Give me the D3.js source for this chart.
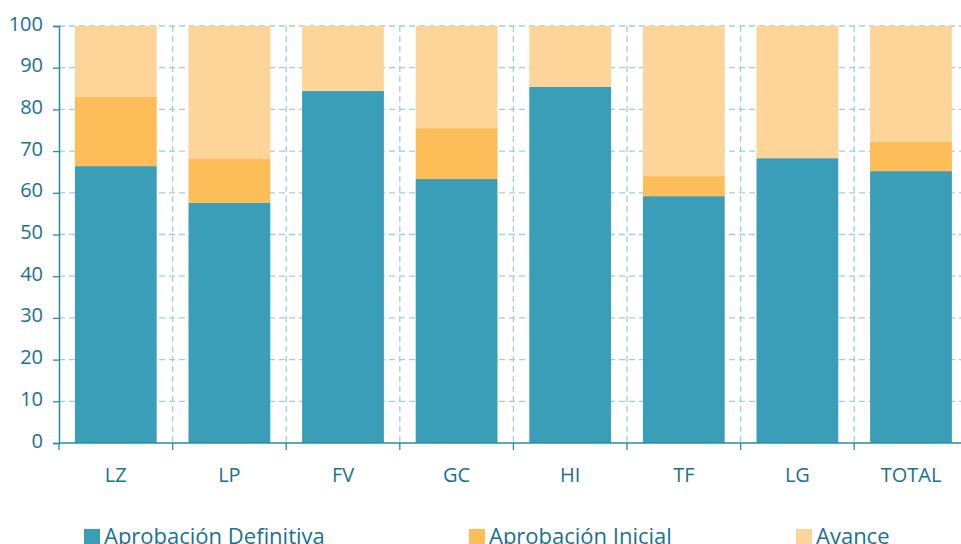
<!DOCTYPE html>
<html><head><meta charset="utf-8">
<script src="https://cdn.jsdelivr.net/npm/d3@7"></script>
<style>body{margin:0;background:#fff;} svg{display:block;font-family:"Open Sans","Noto Sans",sans-serif;}</style>
</head><body>
<svg id="c" width="961" height="544"></svg>
<script>
const categories = ["LZ","LP","FV","GC","HI","TF","LG","TOTAL"];
const definitiva = [66.4, 57.6, 84.4, 63.3, 85.4, 59.2, 68.3, 65.2];
const inicial    = [16.6, 10.5, 0, 12.2, 0, 4.8, 0, 7.0];
const avance     = categories.map((c,i)=> 100 - definitiva[i] - inicial[i]);
const seriesNames = ["Aprobación Definitiva","Aprobación Inicial","Avance"];
const colors = ["#3a9eb8","#fdbd58","#fdd598"];
const yTicks = [0,10,20,30,40,50,60,70,80,90,100];

const svg = d3.select("#c");
const x0 = 59, yTop = 26, yBot = 443, bandW = 113.6;
const x = d3.scaleBand().domain(categories).range([x0, x0 + bandW*categories.length]).paddingInner(0.28).paddingOuter(0.14);
const y = d3.scaleLinear().domain([0,100]).range([yBot, yTop]);
const textCol = "#1b7190", axisCol = "#2a8aa6", gridCol = "#9fcfdc";

// horizontal grid
svg.append("g").selectAll("line").data(yTicks.filter(d=>d>0)).join("line")
  .attr("x1", x0).attr("x2", 961).attr("y1", d=>y(d)).attr("y2", d=>y(d))
  .attr("stroke", gridCol).attr("stroke-width",1.3).attr("stroke-dasharray","6,4");
// vertical grid at band boundaries
const bounds = categories.slice(1).map((c,i)=> x0 + bandW*(i+1));
svg.append("g").selectAll("line").data(bounds).join("line")
  .attr("x1", d=>d).attr("x2", d=>d).attr("y1", yTop).attr("y2", yBot)
  .attr("stroke", gridCol).attr("stroke-width",1.3).attr("stroke-dasharray","6,4");

// stacked bars
const rows = categories.map((c,i)=>({cat:c, d:definitiva[i], i:inicial[i], a:avance[i]}));
const stack = d3.stack().keys(["d","i","a"])(rows);
svg.append("g").selectAll("g").data(stack).join("g").attr("fill",(s,k)=>colors[k])
  .selectAll("rect").data(s=>s).join("rect")
  .attr("x", d=>x(d.data.cat)).attr("width", x.bandwidth())
  .attr("y", d=>y(d[1])).attr("height", d=>y(d[0])-y(d[1]));

// y axis
const ya = svg.append("g").attr("transform",`translate(${x0},0)`)
  .call(d3.axisLeft(y).tickValues(yTicks).tickSize(6).tickPadding(10));
ya.select(".domain").attr("stroke", axisCol).attr("stroke-width",1.5);
ya.selectAll(".tick line").attr("stroke", axisCol).attr("stroke-width",1.3);
ya.selectAll("text").attr("fill", textCol).attr("font-size","20px").attr("font-family","'Open Sans',sans-serif").attr("dy","0.2em");

// x axis
svg.append("line").attr("x1",x0).attr("x2",961).attr("y1",yBot).attr("y2",yBot).attr("stroke",axisCol).attr("stroke-width",1.5);
svg.append("g").selectAll("line").data([x0].concat(bounds)).join("line")
  .attr("x1",d=>d).attr("x2",d=>d).attr("y1",yBot).attr("y2",yBot+7).attr("stroke",axisCol).attr("stroke-width",1.3);
svg.append("g").selectAll("text").data(categories).join("text")
  .attr("x", d=>x(d)+x.bandwidth()/2).attr("y", 482).attr("text-anchor","middle")
  .attr("fill", textCol).attr("font-size","20px").text(d=>d);

// legend
const legX = [84, 469, 796];
const lg = svg.append("g").selectAll("g").data(seriesNames).join("g")
  .attr("transform",(d,i)=>`translate(${legX[i]},529)`);
lg.append("rect").attr("width",16).attr("height",16).attr("fill",(d,i)=>colors[i]);
lg.append("text").attr("x",20).attr("y",15).attr("fill",textCol).attr("font-size","22px").text(d=>d);
</script>
</body></html>
